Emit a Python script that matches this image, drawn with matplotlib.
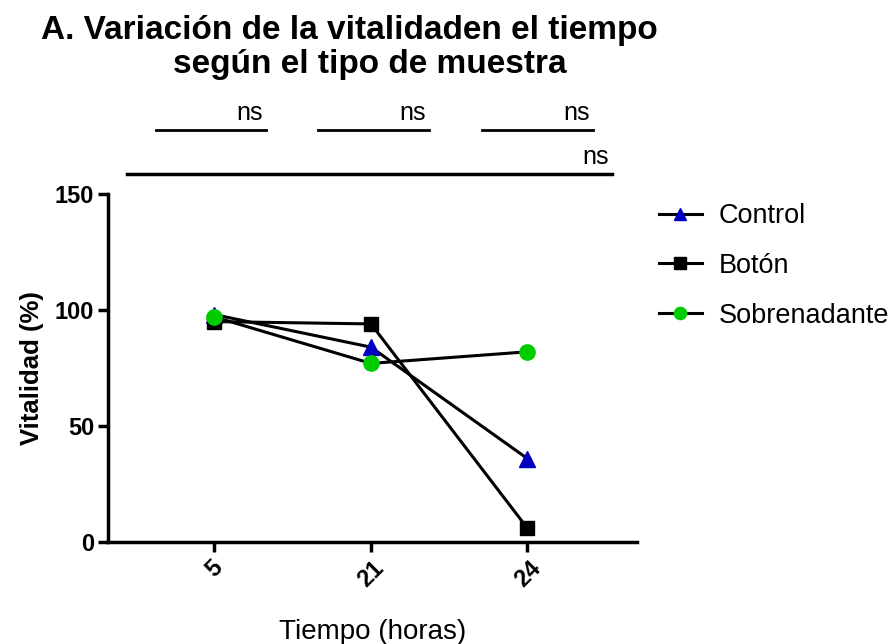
import numpy as np
import matplotlib.pyplot as plt

plt.rcParams['font.family'] = ['Liberation Sans', 'DejaVu Sans']

tiempos = ['5', '21', '24']
control = [98, 84, 36]
boton = [95, 94, 6]
sobrenadante = [97, 77, 82]

x = np.arange(len(tiempos))

fig = plt.figure(figsize=(8.96, 6.44), dpi=100)
ax = fig.add_axes([0.1205, 0.158, 0.5905, 0.541])

ax.plot(x, control, color='black', lw=2.2, marker='^', ms=11,
        mfc='#0000c0', mec='#0000c0', label='Control', zorder=3)
ax.plot(x, boton, color='black', lw=2.2, marker='s', ms=10,
        mfc='black', mec='black', label='Botón', zorder=3)
ax.plot(x, sobrenadante, color='black', lw=2.2, marker='o', ms=11,
        mfc='#00cc00', mec='#00cc00', label='Sobrenadante', zorder=4)

ax.set_xlim(-0.68, 2.70)
ax.set_ylim(0, 150)
ax.set_yticks([0, 50, 100, 150])
ax.set_xticks(x)
ax.set_xticklabels(tiempos, rotation=45, fontweight='bold', fontsize=17)
for lab in ax.get_yticklabels():
    lab.set_fontweight('bold')
    lab.set_fontsize(17)

for s in ['top', 'right']:
    ax.spines[s].set_visible(False)
for s in ['left', 'bottom']:
    ax.spines[s].set_linewidth(2.5)
ax.tick_params(width=2.5, length=7, direction='out', pad=3)

ax.set_ylabel('Vitalidad (%)', fontsize=18.5, fontweight='bold', labelpad=8)
ax.set_xlabel('Tiempo (horas)', fontsize=20, labelpad=20)

# significance bars above the plot
pares = [(-0.37, 0.33), (0.66, 1.37), (1.71, 2.42)]
for a, b in pares:
    ax.plot([a, b], [177.6, 177.6], color='black', lw=2, clip_on=False)
    ax.text(b - 0.02, 179.5, 'ns', ha='right', va='bottom', fontsize=18)
ax.plot([-0.56, 2.54], [158.6, 158.6], color='black', lw=2.5, clip_on=False)
ax.text(2.52, 160.5, 'ns', ha='right', va='bottom', fontsize=18)

ax.legend(loc='upper left', bbox_to_anchor=(0.708, 0.722),
          bbox_transform=fig.transFigure, frameon=False, fontsize=19.5,
          handlelength=1.6, labelspacing=0.87, handletextpad=0.6,
          markerscale=0.8)

fig.text(0.39, 0.94, 'A. Variación de la vitalidaden el tiempo',
         ha='center', va='baseline', fontsize=24, fontweight='bold')
fig.text(0.413, 0.887, 'según el tipo de muestra',
         ha='center', va='baseline', fontsize=24, fontweight='bold')

fig.savefig('out.png', dpi=100)
